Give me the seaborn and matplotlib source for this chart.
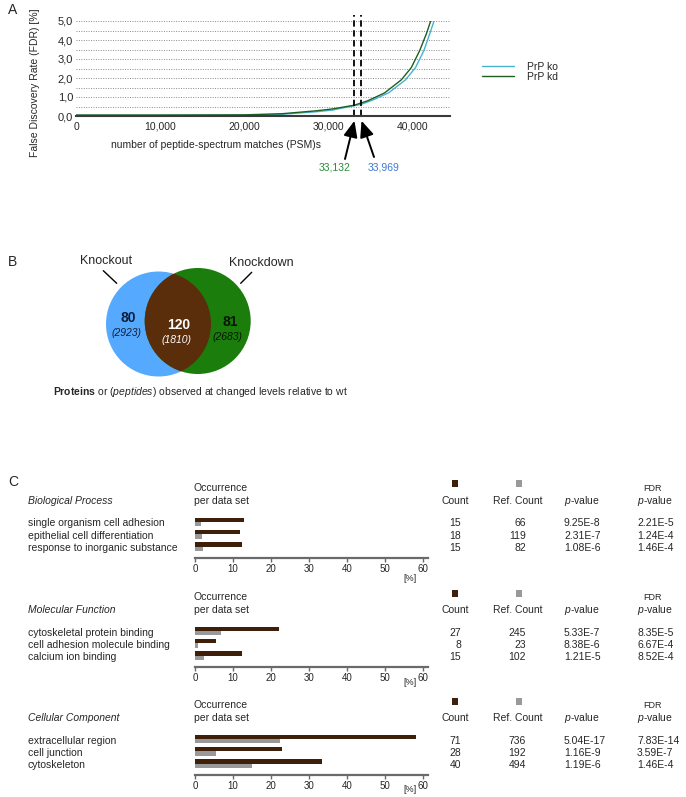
import numpy as np
import pandas as pd
import matplotlib
matplotlib.use("Agg")
import matplotlib.pyplot as plt
from matplotlib.patches import Circle, Rectangle
import seaborn as sns

# ---- panel A: FDR vs number of PSMs ----
psm_ko = [0, 10000, 20000, 24500, 28500, 30500, 33969, 35200, 37200, 39200, 40400, 41400, 42100, 42600]
fdr_ko = [0.03, 0.03, 0.04, 0.09, 0.22, 0.31, 0.62, 0.82, 1.22, 1.90, 2.55, 3.45, 4.34, 5.00]
psm_kd = [0, 10000, 20000, 24500, 28500, 30500, 33132, 34700, 36700, 38700, 39900, 40900, 41700, 42200]
fdr_kd = [0.05, 0.05, 0.06, 0.12, 0.27, 0.37, 0.57, 0.80, 1.21, 1.90, 2.55, 3.45, 4.34, 5.00]
cutoffs = [33132, 33969]
cutoff_labels = ["33,132", "33,969"]
fdr_ticks = [0, 1, 2, 3, 4, 5]
fdr_ticklabels = ["0,0", "1,0", "2,0", "3,0", "4,0", "5,0"]
psm_ticks = [0, 10000, 20000, 30000, 40000]
psm_ticklabels = ["0", "10,000", "20,000", "30,000", "40,000"]

# ---- panel B: venn counts (only ko, both, only kd) ----
venn_proteins = [80, 120, 81]
venn_peptides = [2923, 1810, 2683]

# ---- panel C: GO enrichment ----
bp_terms = ["single organism cell adhesion", "epithelial cell differentiation", "response to inorganic substance"]
bp_occ = [12.9, 11.9, 12.3]
bp_ref_occ = [1.7, 1.9, 2.2]
bp_count = [15, 18, 15]
bp_ref_count = [66, 119, 82]
bp_p = ["9.25E-8", "2.31E-7", "1.08E-6"]
bp_fdr = ["2.21E-5", "1.24E-4", "1.46E-4"]

mf_terms = ["cytoskeletal protein binding", "cell adhesion molecule binding", "calcium ion binding"]
mf_occ = [22.2, 5.6, 12.5]
mf_ref_occ = [6.9, 0.7, 2.5]
mf_count = [27, 8, 15]
mf_ref_count = [245, 23, 102]
mf_p = ["5.33E-7", "8.38E-6", "1.21E-5"]
mf_fdr = ["8.35E-5", "6.67E-4", "8.52E-4"]

cc_terms = ["extracellular region", "cell junction", "cytoskeleton"]
cc_occ = [58.3, 23.0, 33.4]
cc_ref_occ = [22.3, 5.5, 14.9]
cc_count = [71, 28, 40]
cc_ref_count = [736, 192, 494]
cc_p = ["5.04E-17", "1.16E-9", "1.19E-6"]
cc_fdr = ["7.83E-14", "3.59E-7", "1.46E-4"]

occ_ticks = [0, 10, 20, 30, 40, 50, 60]

KO_LINE = "#45b3d0"
KD_LINE = "#1d5e22"
KO_FILL = "#55aaff"
KD_FILL = "#1b7d0b"
BOTH_FILL = "#5a2d0b"
DARK = "#3d1f0a"
GRAY = "#999999"
AXGRAY = "#6a6a6a"
FS = 7.5

sns.set_style("white")
plt.rcParams["font.family"] = ["Liberation Sans", "DejaVu Sans"]
plt.rcParams["mathtext.fontset"] = "custom"
plt.rcParams["mathtext.rm"] = "Liberation Sans"
plt.rcParams["mathtext.it"] = "Liberation Sans:italic"
plt.rcParams["mathtext.bf"] = "Liberation Sans:bold"

W, H = 686, 797
fig = plt.figure(figsize=(W / 100, H / 100), dpi=100)


def box(l, t, r, b):
    return [l / W, 1 - b / H, (r - l) / W, (b - t) / H]


def fp(x, y):
    return (x / W, 1 - y / H)


# ================= A =================
fig.text(*fp(8, 10), "A", fontsize=10, va="center")
axA = fig.add_axes(box(76, 21, 450, 116))
sns.lineplot(x=psm_ko, y=fdr_ko, color=KO_LINE, lw=1.0, label="PrP ko", ax=axA)
sns.lineplot(x=psm_kd, y=fdr_kd, color=KD_LINE, lw=1.0, label="PrP kd", ax=axA)
axA.set_xlim(0, 44500)
axA.set_ylim(0, 5)
axA.set_yticks(fdr_ticks, fdr_ticklabels)
axA.set_yticks([t + 0.5 for t in fdr_ticks[:-1]], minor=True)
axA.set_xticks(psm_ticks, psm_ticklabels)
axA.grid(axis="y", which="both", ls=(0, (1, 1.5)), color="#8a8a8a", lw=0.7)
axA.tick_params(which="both", length=0, labelsize=FS)
axA.tick_params(axis="y", pad=2, labelsize=8)
axA.tick_params(axis="x", pad=4)
sns.despine(ax=axA, left=True)
axA.spines["bottom"].set_color("#3a3a3a")
axA.spines["bottom"].set_linewidth(1.5)
axA.vlines(cutoffs, 0, 5.3, colors="black", linestyles=(0, (3.5, 2)), lw=1.3, clip_on=False)

tails = [(345, 159), (374, 157)]
label_cols = ["#2d8a3a", "#3b78d8"]
label_x = [335, 384]
for c, (tx, ty), lab, col, lx in zip(cutoffs, tails, cutoff_labels, label_cols, label_x):
    axA.annotate("", xy=(c, -0.05), xycoords=("data", "axes fraction"),
                 xytext=fp(tx, ty), textcoords="figure fraction",
                 arrowprops=dict(arrowstyle="-|>,head_length=0.7,head_width=0.3", color="black",
                                 lw=1.4, shrinkA=0, shrinkB=0, mutation_scale=14),
                 annotation_clip=False)
    fig.text(*fp(lx, 167), lab, color=col, fontsize=FS, ha="center", va="center")

fig.text(*fp(216, 145), "number of peptide-spectrum matches (PSM)s", fontsize=FS, ha="center", va="center")
fig.text(*fp(35, 83), "False Discovery Rate (FDR) [%]", fontsize=FS, ha="center", va="center", rotation=90)
axA.legend(loc="center left", bbox_to_anchor=fp(482, 72), bbox_transform=fig.transFigure,
           frameon=False, fontsize=FS, handlelength=3.1, handletextpad=1.2, labelspacing=0.0,
           borderpad=0, borderaxespad=0)

# ================= B =================
fig.text(*fp(8, 262), "B", fontsize=10, va="center")
axB = fig.add_axes(box(60, 245, 300, 400))
axB.set_xlim(60, 300)
axB.set_ylim(400, 245)
axB.axis("off")
c_ko = Circle((158.5, 324), 52.5, color=KO_FILL, lw=0)
c_kd = Circle((197.7, 321), 53, color=KD_FILL, lw=0)
c_both = Circle((197.7, 321), 53, color=BOTH_FILL, lw=0)
axB.add_patch(c_ko)
axB.add_patch(c_kd)
axB.add_patch(c_both)
c_both.set_clip_path(c_ko)

num_pos = [(128.3, 318.3), (178.3, 325.3), (230, 321.7)]
pep_pos = [(126.7, 332.7), (176.7, 340), (227.3, 336.7)]
txt_cols = ["#0d1f3c", "white", "#0a1405"]
for n, p, (nx, ny), (px_, py_), col in zip(venn_proteins, venn_peptides, num_pos, pep_pos, txt_cols):
    axB.text(nx, ny, str(n), fontsize=10, fontweight="bold", color=col, ha="center", va="center")
    axB.text(px_, py_, f"({p})", fontsize=7.5, style="italic", color=col, ha="center", va="center")

axB.text(105.8, 260.7, "Knockout", fontsize=9, ha="center", va="center")
axB.text(261.7, 262.7, "Knockdown", fontsize=9, ha="center", va="center")
axB.plot([103.3, 116.7], [270.7, 283.3], color="black", lw=1)
axB.plot([251.7, 240.7], [272.3, 283.3], color="black", lw=1)
fig.text(*fp(53, 392), r"$\bf{Proteins}$ or ($\it{peptides}$) observed at changed levels relative to wt",
         fontsize=7.5, ha="left", va="center")

# ================= C =================
fig.text(*fp(8, 482), "C", fontsize=10, va="center")


def square(cx, cy, color):
    w, h = 6, 7
    fig.add_artist(Rectangle(((cx - w / 2) / W, 1 - (cy + h / 2) / H), w / W, h / H,
                             transform=fig.transFigure, color=color, lw=0))


def go_block(title, terms, occ, ref_occ, count, ref_count, pval, fdr, y_head, pct_dy):
    row0 = y_head + 21
    step = 12.4
    axis_y = row0 + 2 * step + 11
    ax = fig.add_axes(box(195, row0 - 0.5 * step, 427.5, axis_y))
    df = pd.DataFrame({"term": terms * 2, "pct": occ + ref_occ,
                       "set": ["data"] * len(terms) + ["ref"] * len(terms)})
    sns.barplot(data=df, y="term", x="pct", hue="set", order=terms, hue_order=["data", "ref"],
                palette=[DARK, GRAY], orient="h", width=0.72, saturation=1, legend=False,
                linewidth=0, ax=ax)
    ax.set_xlim(0, 61.2)
    ax.set_ylim((axis_y - row0) / step, -0.5)
    ax.set_xticks(occ_ticks)
    ax.set_xlabel("")
    ax.set_ylabel("")
    sns.despine(ax=ax, left=True)
    ax.spines["bottom"].set_color(AXGRAY)
    ax.spines["bottom"].set_linewidth(1.6)
    ax.tick_params(axis="x", length=3, width=1, color=AXGRAY, labelsize=7, pad=1.5, direction="out", bottom=True)
    ax.tick_params(axis="y", left=False, labelleft=False)
    fig.text(*fp(403, axis_y + pct_dy), "[%]", fontsize=6.5, ha="left", va="center")

    fig.text(*fp(28, y_head), title, style="italic", fontsize=FS, va="center")
    fig.text(*fp(194, y_head - 13), "Occurrence", fontsize=FS, va="center")
    fig.text(*fp(194, y_head), "per data set", fontsize=FS, va="center")
    square(454.5, y_head - 17, DARK)
    square(518.5, y_head - 17, GRAY)
    fig.text(*fp(455, y_head), "Count", fontsize=FS, ha="center", va="center")
    fig.text(*fp(518, y_head), "Ref. Count", fontsize=FS, ha="center", va="center")
    fig.text(*fp(564, y_head), r"$\it{p}$-value", fontsize=FS, va="center")
    fig.text(*fp(653, y_head - 13), "FDR", fontsize=6.5, ha="center", va="center")
    fig.text(*fp(637, y_head), r"$\it{p}$-value", fontsize=FS, va="center")
    for i, t in enumerate(terms):
        y = row0 + i * step + 1.5
        fig.text(*fp(28, y), t, fontsize=FS, va="center")
        fig.text(*fp(461, y), str(count[i]), fontsize=FS, ha="right", va="center")
        fig.text(*fp(526, y), str(ref_count[i]), fontsize=FS, ha="right", va="center")
        fig.text(*fp(564, y), pval[i], fontsize=FS, va="center")
        fig.text(*fp(637, y), fdr[i], fontsize=FS, va="center")


go_block("Biological Process", bp_terms, bp_occ, bp_ref_occ, bp_count, bp_ref_count, bp_p, bp_fdr, 501, 21)
go_block("Molecular Function", mf_terms, mf_occ, mf_ref_occ, mf_count, mf_ref_count, mf_p, mf_fdr, 610, 16)
go_block("Cellular Component", cc_terms, cc_occ, cc_ref_occ, cc_count, cc_ref_count, cc_p, cc_fdr, 718, 15)

fig.savefig("out.png", dpi=100)
